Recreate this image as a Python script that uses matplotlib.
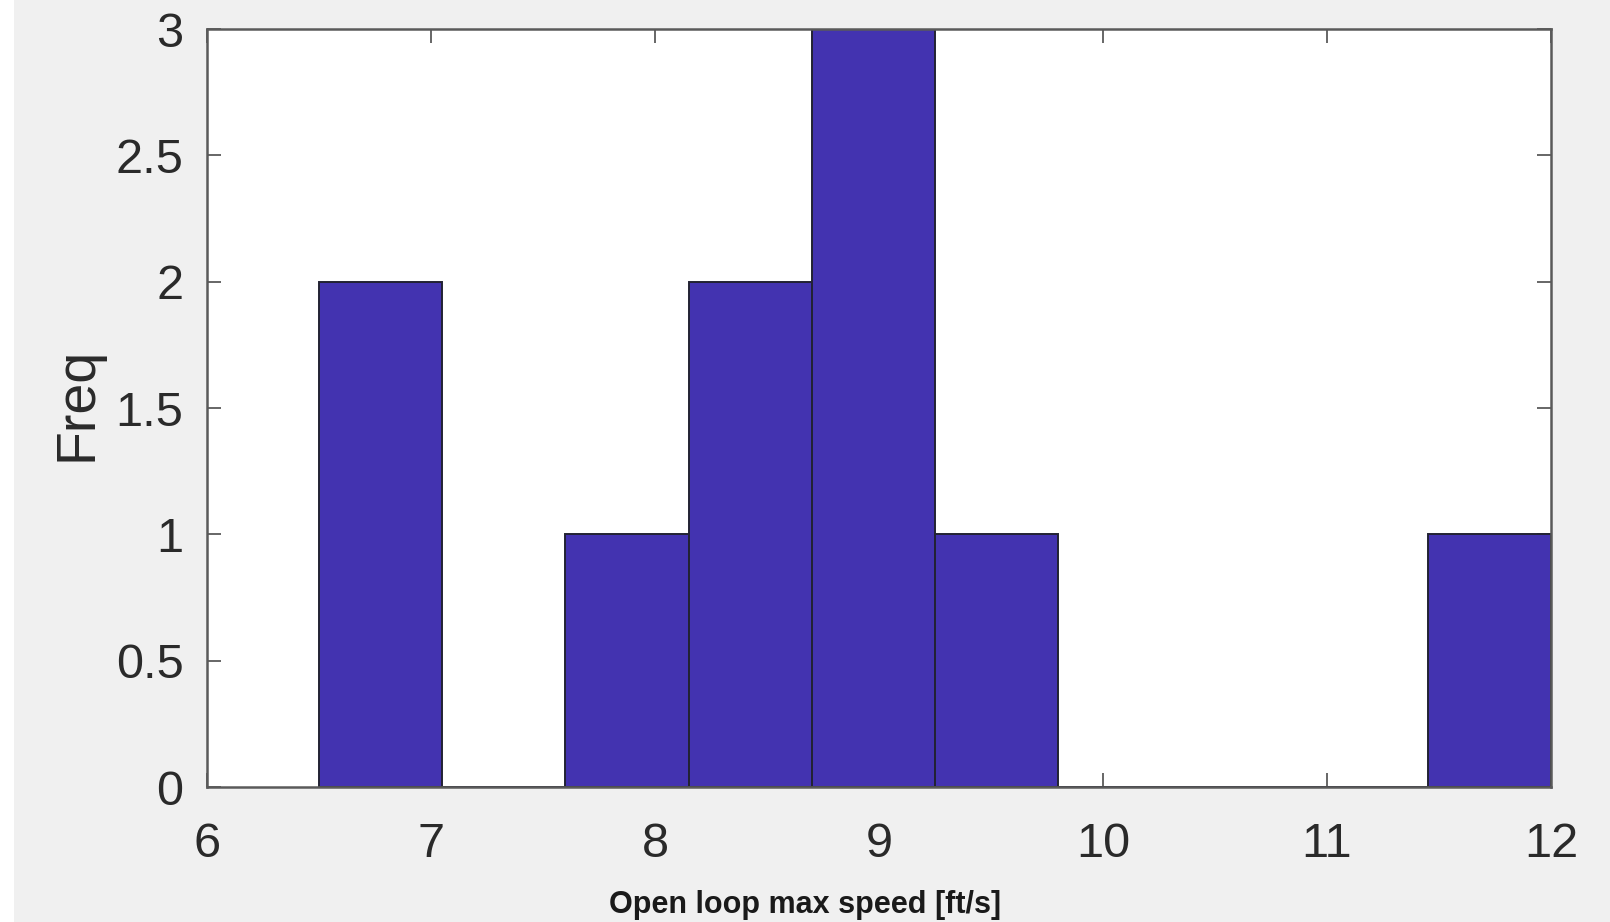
import numpy as np
import matplotlib
matplotlib.use("Agg")
import matplotlib.pyplot as plt
from matplotlib.patches import Rectangle

# Histogram of open-loop maximum speed (10 bins)
bin_edges = [6.5, 7.05, 7.6, 8.15, 8.7, 9.25, 9.8, 10.35, 10.9, 11.45, 12.0]
bin_counts = [2, 0, 1, 2, 3, 1, 0, 0, 0, 1]
x_ticks = [6, 7, 8, 9, 10, 11, 12]
y_ticks = [0, 0.5, 1, 1.5, 2, 2.5, 3]
y_tick_labels = ["0", "0.5", "1", "1.5", "2", "2.5", "3"]

plt.rcParams['font.family'] = ['Liberation Sans', 'DejaVu Sans']

W, H = 1610, 922
fig = plt.figure(figsize=(W / 100, H / 100), dpi=100, facecolor='#f0f0f0')
fig.patches.append(Rectangle((0, 0), 14 / W, 1, transform=fig.transFigure,
                             facecolor='white', edgecolor='none', zorder=-1))

ax = fig.add_axes([207 / W, 1 - 787 / H, (1551 - 207) / W, (787 - 29) / H])
ax.set_facecolor('white')

edges = np.array(bin_edges)
ax.bar(edges[:-1], bin_counts, width=np.diff(edges), align='edge',
       color='#4333b0', edgecolor='#222233', linewidth=1.4, zorder=2)

ax.set_xlim(6, 12)
ax.set_ylim(0, 3)
ax.set_xticks(x_ticks)
ax.set_yticks(y_ticks)
ax.set_yticklabels(y_tick_labels)

spine_color = '#5a5a5a'
for s in ax.spines.values():
    s.set_color(spine_color)
    s.set_linewidth(1.8)
    s.set_zorder(3)

ax.tick_params(axis='both', direction='in', length=10, width=1.3,
               color=spine_color, labelsize=35, labelcolor='#2a2a2a',
               top=True, right=True)
ax.tick_params(axis='y', pad=17)
ax.tick_params(axis='x', pad=25)

ax.set_ylabel('Freq', fontsize=40, color='#2a2a2a', va='center')
ax.yaxis.set_label_coords(-0.096, 0.505)

ax.set_xlabel('Open loop max speed [ft/s]', fontsize=22, fontweight='bold',
              color='#1a1a1a', va='center')
ax.xaxis.set_label_coords(0.445, -0.156)

fig.savefig('out.png', dpi=100, facecolor=fig.get_facecolor())
